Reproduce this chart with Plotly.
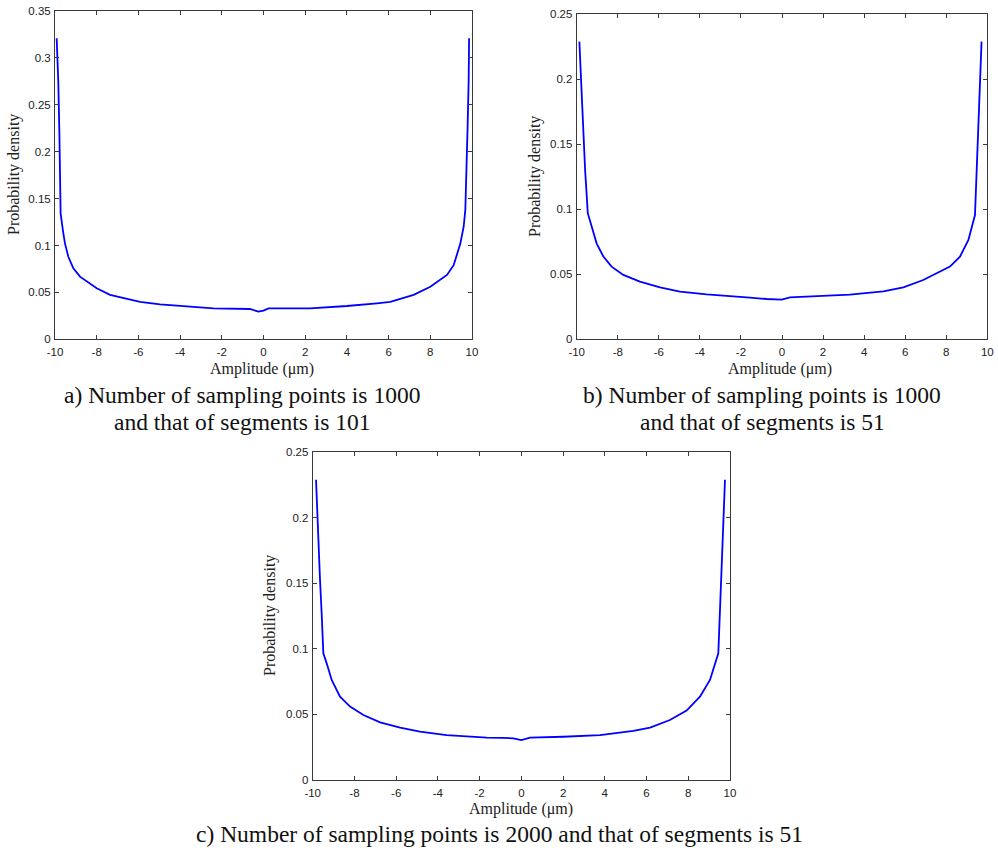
import plotly.graph_objects as go

W, H = 998, 852

# Panel a: 1000 sampling points, 101 segments
xa = [-9.92, -9.84, -9.79, -9.76, -9.73, -9.6, -9.52, -9.36, -9.12, -8.8, -8.48, -8.0, -7.36, -6.56,
      -5.92, -4.96, -3.68, -2.4, -0.65, -0.25, 0.0, 0.24, 2.24, 4.0, 5.44, 6.08, 7.2, 8.0, 8.8, 9.12,
      9.44, 9.6, 9.68, 9.72, 9.79, 9.84, 9.86]
ya = [0.321, 0.273, 0.22, 0.184, 0.134, 0.113, 0.102, 0.088, 0.0757, 0.0668, 0.0615, 0.0544, 0.0473,
      0.0437, 0.040, 0.0373, 0.0348, 0.033, 0.0323, 0.0295, 0.0306, 0.033, 0.033, 0.0355, 0.0384, 0.040,
      0.0473, 0.056, 0.0686, 0.079, 0.102, 0.12, 0.138, 0.184, 0.227, 0.276, 0.321]

# Panel b: 1000 sampling points, 51 segments
xb = [-9.87, -9.79, -9.71, -9.59, -9.51, -9.46, -9.27, -9.03, -8.70, -8.30, -7.73, -6.92, -5.94, -4.97,
      -3.67, -2.37, -1.56, -0.75, -0.02, 0.39, 1.69, 3.31, 4.94, 5.91, 6.88, 7.53, 8.18, 8.67, 9.08,
      9.40, 9.48, 9.56, 9.64, 9.72]
yb = [0.229, 0.1995, 0.1636, 0.130, 0.110, 0.097, 0.0867, 0.0738, 0.0636, 0.0559, 0.0495, 0.0444, 0.040,
      0.0367, 0.0346, 0.0333, 0.032, 0.031, 0.0305, 0.0323, 0.0333, 0.0344, 0.0369, 0.040, 0.0456,
      0.0508, 0.0559, 0.0636, 0.0764, 0.0956, 0.128, 0.1636, 0.197, 0.229]

# Panel c: 2000 sampling points, 51 segments
xc = [-9.84, -9.78, -9.73, -9.65, -9.57, -9.49, -9.33, -9.09, -8.69, -8.21, -7.57, -6.77, -5.81, -4.86,
      -3.58, -1.66, -0.9, -0.38, 0.0, 0.42, 2.01, 3.77, 5.37, 6.17, 7.12, 7.92, 8.56, 9.04, 9.44, 9.52,
      9.60, 9.68, 9.76]
yc = [0.229, 0.201, 0.175, 0.153, 0.127, 0.0966, 0.089, 0.0763, 0.0636, 0.056, 0.0496, 0.044, 0.040,
      0.0369, 0.0343, 0.0323, 0.0322, 0.0318, 0.0305, 0.0323, 0.033, 0.0343, 0.0374, 0.040, 0.0458,
      0.053, 0.0636, 0.0763, 0.0966, 0.132, 0.163, 0.196, 0.229]

x_ticks = [-10, -8, -6, -4, -2, 0, 2, 4, 6, 8, 10]
x_ticktext = ["-10", "-8", "-6", "-4", "-2", "0", "2", "4", "6", "8", "10"]
y_ticks_a = [0, 0.05, 0.1, 0.15, 0.2, 0.25, 0.3, 0.35]
y_ticks_bc = [0, 0.05, 0.1, 0.15, 0.2, 0.25]
x_label = "Amplitude (μm)"
y_label = "Probability density"
caption_lines = [
    ["a) Number of sampling points is 1000", "and that of segments is 101"],
    ["b) Number of sampling points is 1000", "and that of segments is 51"],
    ["c) Number of sampling points is 2000 and that of segments is 51"],
]

# pixel boxes of plot areas (left, right, top, bottom)
boxes = [(55, 472, 11, 339.3), (576.7, 987.3, 14.3, 339.3), (312.7, 730, 452.3, 780)]
yranges = [[0, 0.35], [0, 0.25], [0, 0.25]]
yticks = [y_ticks_a, y_ticks_bc, y_ticks_bc]

fig = go.Figure()
series = [(xa, ya), (xb, yb), (xc, yc)]
for i, (xs, ys) in enumerate(series):
    sfx = "" if i == 0 else str(i + 1)
    fig.add_trace(go.Scatter(x=xs, y=ys, mode="lines", line=dict(color="#0000ff", width=1.8),
                             xaxis="x" + sfx, yaxis="y" + sfx, showlegend=False, hoverinfo="skip"))

axcommon = dict(showline=True, linecolor="#3a3a3a", linewidth=1, mirror="ticks", ticks="inside",
                ticklen=4, tickcolor="#3a3a3a", showgrid=False, zeroline=False, automargin=False,
                tickfont=dict(family="Liberation Sans", size=11.5, color="#222222"))

layout = dict(width=W, height=H, margin=dict(l=0, r=0, t=0, b=0, pad=0), paper_bgcolor="white",
              plot_bgcolor="white", showlegend=False)
for i, (l, r, t, b) in enumerate(boxes):
    sfx = "" if i == 0 else str(i + 1)
    layout["xaxis" + sfx] = dict(domain=[l / W, r / W], range=[-10, 10], tickvals=x_ticks,
                                 ticktext=x_ticktext, anchor="y" + sfx, ticklabelstandoff=2,
                                 **axcommon)
    layout["yaxis" + sfx] = dict(domain=[1 - b / H, 1 - t / H], range=yranges[i],
                                 tickvals=yticks[i], ticktext=[f"{v:g}" for v in yticks[i]],
                                 anchor="x" + sfx, ticklabelstandoff=1, **axcommon)
fig.update_layout(**layout)

serif = "Liberation Serif"
ylab_pos = [(14, 175), (535, 177), (270, 616)]
xlab_pos = [(262, 369), (780, 369), (521, 809)]
cap_pos = [(242, 395), (762, 395), (500, 834)]
cap_step = 27
for (px, py) in ylab_pos:
    fig.add_annotation(x=px / W, y=1 - py / H, xref="paper", yref="paper", text=y_label,
                       xanchor="center", yanchor="middle", textangle=-90, showarrow=False,
                       font=dict(family=serif, size=16, color="#222222"))
for (px, py) in xlab_pos:
    fig.add_annotation(x=px / W, y=1 - py / H, xref="paper", yref="paper", text=x_label,
                       xanchor="center", yanchor="middle", showarrow=False,
                       font=dict(family=serif, size=16, color="#222222"))
for lines, (px, py) in zip(caption_lines, cap_pos):
    for k, line in enumerate(lines):
        fig.add_annotation(x=px / W, y=1 - (py + k * cap_step) / H, xref="paper", yref="paper",
                           text=line, xanchor="center", yanchor="middle", showarrow=False,
                           font=dict(family=serif, size=23.5, color="#111111"))

fig.write_html("out.html")
